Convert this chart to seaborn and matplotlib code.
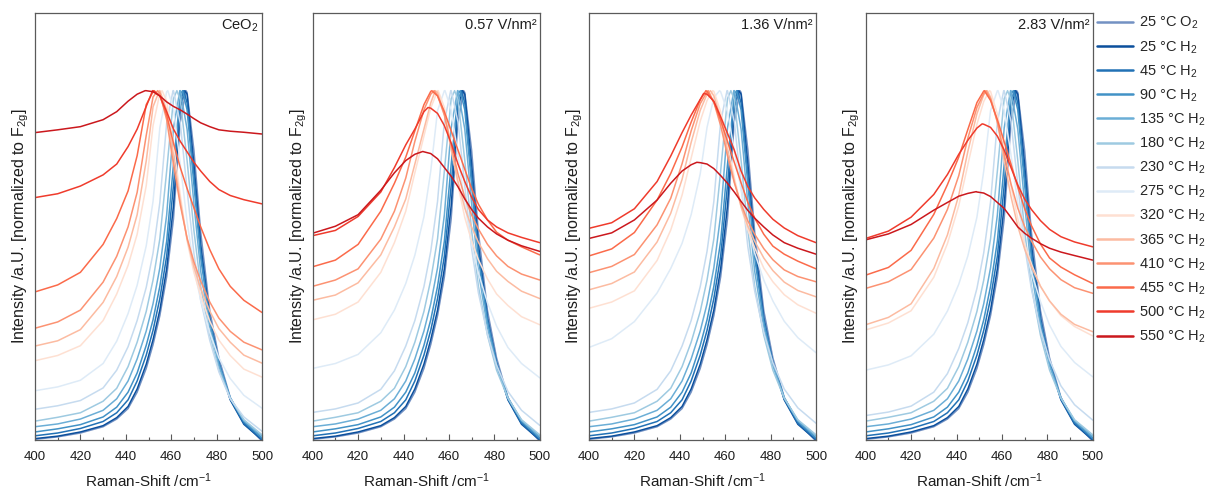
import numpy as np
import pandas as pd
import matplotlib
matplotlib.use("Agg")
import matplotlib.pyplot as plt
import seaborn as sns
from matplotlib.lines import Line2D
from matplotlib.ticker import MultipleLocator

# ---------------- data ----------------
raman_shift = [400, 410, 420, 430, 436, 441, 445, 449, 452, 455, 458,
               461, 464, 467, 470, 473, 477, 481, 486, 492, 500]

series_labels = ["25 °C O$_2$", "25 °C H$_2$", "45 °C H$_2$", "90 °C H$_2$",
                 "135 °C H$_2$", "180 °C H$_2$", "230 °C H$_2$", "275 °C H$_2$",
                 "320 °C H$_2$", "365 °C H$_2$", "410 °C H$_2$", "455 °C H$_2$",
                 "500 °C H$_2$", "550 °C H$_2$"]

series_colors = ["#7391c3", "#0b4f9c", "#2171b5", "#4292c6", "#6baed6", "#9ecae1",
                 "#c6dbef", "#deebf7", "#fee0d2", "#fcbba1", "#fc9272", "#fb6a4a",
                 "#ef3b2c", "#cb181d"]

panel_titles = ["CeO$_2$", "0.57 V/nm²", "1.36 V/nm²", "2.83 V/nm²"]

# low-temperature curves look the same in all four panels
o2_25 = [0.002, 0.009, 0.020, 0.038, 0.060, 0.090, 0.137, 0.205, 0.273, 0.356, 0.467,
         0.633, 0.910, 0.995, 0.830, 0.595, 0.370, 0.235, 0.122, 0.050, -0.003]
h2_25 = [0.004, 0.011, 0.023, 0.041, 0.064, 0.096, 0.146, 0.217, 0.287, 0.372, 0.490,
         0.670, 0.950, 0.990, 0.790, 0.560, 0.350, 0.220, 0.115, 0.045, 0.000]
h2_45 = [0.012, 0.020, 0.033, 0.053, 0.078, 0.115, 0.169, 0.243, 0.314, 0.405, 0.526,
         0.728, 0.970, 0.965, 0.760, 0.540, 0.340, 0.220, 0.117, 0.048, 0.002]
h2_90 = [0.023, 0.032, 0.044, 0.066, 0.094, 0.137, 0.192, 0.271, 0.344, 0.440, 0.569,
         0.788, 0.990, 0.945, 0.731, 0.521, 0.340, 0.220, 0.121, 0.053, 0.006]
h2_135 = [0.038, 0.046, 0.060, 0.085, 0.118, 0.169, 0.232, 0.312, 0.390, 0.493, 0.644,
          0.893, 1.000, 0.890, 0.677, 0.483, 0.322, 0.212, 0.120, 0.056, 0.011]
h2_180 = [0.054, 0.065, 0.078, 0.111, 0.148, 0.210, 0.280, 0.368, 0.458, 0.576, 0.770,
          0.977, 0.975, 0.800, 0.600, 0.440, 0.300, 0.200, 0.120, 0.058, 0.015]

# panel 1: CeO2
p1_230 = [0.088, 0.098, 0.113, 0.149, 0.200, 0.267, 0.342, 0.437, 0.535, 0.680, 0.907,
          1.000, 0.907, 0.716, 0.535, 0.400, 0.285, 0.195, 0.118, 0.066, 0.025]
p1_275 = [0.141, 0.152, 0.171, 0.219, 0.283, 0.362, 0.443, 0.556, 0.683, 0.894, 0.997,
          0.950, 0.790, 0.625, 0.494, 0.400, 0.308, 0.235, 0.176, 0.128, 0.091]
p1_320 = [0.227, 0.242, 0.270, 0.342, 0.418, 0.500, 0.589, 0.728, 0.900, 0.993, 0.970,
          0.846, 0.701, 0.570, 0.480, 0.412, 0.340, 0.286, 0.242, 0.203, 0.180]
p1_365 = [0.269, 0.284, 0.316, 0.394, 0.468, 0.552, 0.645, 0.799, 0.954, 1.000, 0.945,
          0.814, 0.684, 0.575, 0.496, 0.433, 0.369, 0.319, 0.280, 0.243, 0.220]
p1_410 = [0.320, 0.338, 0.372, 0.452, 0.526, 0.610, 0.709, 0.872, 0.982, 0.993, 0.917,
          0.789, 0.673, 0.578, 0.510, 0.455, 0.395, 0.349, 0.311, 0.280, 0.258]
p1_455 = [0.424, 0.444, 0.480, 0.560, 0.634, 0.713, 0.814, 0.960, 0.997, 0.985, 0.930,
          0.850, 0.780, 0.720, 0.665, 0.610, 0.545, 0.490, 0.440, 0.400, 0.365]
p1_500 = [0.694, 0.705, 0.727, 0.759, 0.790, 0.840, 0.890, 0.955, 1.000, 0.985, 0.940,
          0.890, 0.855, 0.825, 0.795, 0.770, 0.740, 0.717, 0.700, 0.688, 0.676]
p1_550 = [0.880, 0.888, 0.897, 0.917, 0.940, 0.970, 0.990, 1.000, 0.997, 0.985, 0.968,
          0.955, 0.945, 0.933, 0.920, 0.908, 0.897, 0.888, 0.884, 0.881, 0.876]
p1_peak_x = [466.5, 466.0, 465.5, 465.0, 463.8, 462.5, 460.8, 458.5, 456.0, 454.8,
             454.0, 452.5, 451.8, 448.5]
p1_peak_y = [1, 1, 1, 1, 1, 1, 1, 1, 1, 1, 1, 1, 1, 1]

# panel 2: 0.57 V/nm²
p2_230 = [0.079, 0.089, 0.106, 0.145, 0.198, 0.269, 0.342, 0.439, 0.540, 0.683, 0.911,
          1.000, 0.911, 0.728, 0.548, 0.421, 0.302, 0.214, 0.139, 0.085, 0.042]
p2_275 = [0.205, 0.219, 0.245, 0.307, 0.372, 0.448, 0.529, 0.639, 0.770, 0.943, 1.000,
          0.945, 0.815, 0.677, 0.559, 0.478, 0.393, 0.326, 0.265, 0.219, 0.178]
p2_320 = [0.344, 0.360, 0.395, 0.480, 0.565, 0.655, 0.765, 0.870, 0.950, 1.000, 0.952,
          0.841, 0.730, 0.637, 0.570, 0.516, 0.461, 0.418, 0.385, 0.353, 0.330]
p2_365 = [0.400, 0.415, 0.450, 0.530, 0.610, 0.690, 0.790, 0.890, 0.965, 0.995, 0.934,
          0.832, 0.740, 0.664, 0.610, 0.566, 0.519, 0.483, 0.454, 0.426, 0.405]
p2_410 = [0.440, 0.458, 0.490, 0.575, 0.655, 0.750, 0.855, 0.945, 0.990, 0.986, 0.930,
          0.843, 0.762, 0.695, 0.644, 0.604, 0.560, 0.527, 0.497, 0.475, 0.458]
p2_455 = [0.496, 0.515, 0.560, 0.655, 0.735, 0.810, 0.885, 0.960, 0.998, 0.985, 0.940,
          0.885, 0.830, 0.775, 0.720, 0.675, 0.630, 0.595, 0.572, 0.553, 0.530]
p2_500 = [0.585, 0.600, 0.640, 0.710, 0.780, 0.845, 0.890, 0.940, 0.950, 0.935, 0.900,
          0.850, 0.790, 0.740, 0.695, 0.660, 0.630, 0.610, 0.593, 0.580, 0.565]
p2_550 = [0.592, 0.612, 0.645, 0.715, 0.765, 0.800, 0.818, 0.825, 0.820, 0.805, 0.780,
          0.755, 0.725, 0.690, 0.660, 0.635, 0.610, 0.590, 0.572, 0.556, 0.540]
p2_peak_x = [466.5, 466.0, 465.5, 465.0, 463.8, 462.5, 460.8, 458.3, 455.3, 454.0,
             453.5, 452.5, 450.8, 448.5]
p2_peak_y = [1, 1, 1, 1, 1, 1, 1, 1, 1, 1, 1, 1, 0.952, 0.826]

# panel 3: 1.36 V/nm²
p3_230 = [0.079, 0.089, 0.106, 0.145, 0.198, 0.269, 0.342, 0.439, 0.540, 0.683, 0.911,
          1.000, 0.911, 0.730, 0.552, 0.426, 0.308, 0.221, 0.146, 0.092, 0.048]
p3_275 = [0.265, 0.290, 0.339, 0.421, 0.491, 0.563, 0.645, 0.762, 0.895, 0.980, 0.997,
          0.940, 0.830, 0.715, 0.610, 0.535, 0.458, 0.398, 0.340, 0.293, 0.250]
p3_320 = [0.377, 0.395, 0.427, 0.514, 0.601, 0.701, 0.807, 0.913, 0.972, 0.998, 0.940,
          0.850, 0.752, 0.667, 0.601, 0.550, 0.492, 0.453, 0.416, 0.387, 0.363]
p3_365 = [0.430, 0.448, 0.481, 0.567, 0.649, 0.746, 0.852, 0.944, 0.990, 0.985, 0.924,
          0.829, 0.741, 0.668, 0.612, 0.569, 0.521, 0.485, 0.452, 0.428, 0.410]
p3_410 = [0.479, 0.497, 0.531, 0.616, 0.692, 0.791, 0.885, 0.963, 0.997, 0.967, 0.900,
          0.814, 0.737, 0.675, 0.627, 0.589, 0.548, 0.516, 0.487, 0.468, 0.453]
p3_455 = [0.527, 0.547, 0.594, 0.687, 0.763, 0.839, 0.910, 0.974, 0.998, 0.967, 0.915,
          0.855, 0.795, 0.736, 0.680, 0.635, 0.589, 0.555, 0.532, 0.512, 0.490]
p3_500 = [0.606, 0.622, 0.662, 0.740, 0.813, 0.880, 0.930, 0.975, 0.990, 0.970, 0.925,
          0.878, 0.830, 0.770, 0.725, 0.693, 0.660, 0.632, 0.607, 0.585, 0.565]
p3_550 = [0.577, 0.593, 0.630, 0.687, 0.735, 0.770, 0.788, 0.794, 0.790, 0.777, 0.757,
          0.735, 0.710, 0.683, 0.657, 0.635, 0.610, 0.587, 0.565, 0.549, 0.532]
p3_peak_x = [466.5, 466.0, 465.5, 465.0, 463.8, 462.5, 460.8, 457.5, 454.5, 453.5,
             452.5, 451.5, 450.5, 447.5]
p3_peak_y = [1, 1, 1, 1, 1, 1, 1, 1, 1, 1, 1, 1, 0.992, 0.795]

# panel 4: 2.83 V/nm²
p4_230 = [0.070, 0.080, 0.097, 0.137, 0.190, 0.262, 0.336, 0.434, 0.536, 0.681, 0.910,
          1.000, 0.912, 0.732, 0.556, 0.432, 0.315, 0.229, 0.155, 0.101, 0.057]
p4_275 = [0.200, 0.215, 0.241, 0.303, 0.369, 0.446, 0.527, 0.638, 0.770, 0.943, 1.000,
          0.945, 0.816, 0.679, 0.561, 0.480, 0.396, 0.329, 0.268, 0.222, 0.181]
p4_320 = [0.315, 0.335, 0.370, 0.466, 0.562, 0.671, 0.788, 0.904, 0.969, 0.998, 0.933,
          0.834, 0.727, 0.634, 0.561, 0.504, 0.440, 0.398, 0.356, 0.325, 0.298]
p4_365 = [0.330, 0.351, 0.390, 0.491, 0.587, 0.701, 0.826, 0.934, 0.988, 0.982, 0.911,
          0.800, 0.697, 0.612, 0.547, 0.496, 0.440, 0.398, 0.360, 0.331, 0.310]
p4_410 = [0.434, 0.453, 0.488, 0.578, 0.660, 0.757, 0.864, 0.952, 0.992, 0.977, 0.910,
          0.817, 0.733, 0.664, 0.611, 0.570, 0.524, 0.490, 0.459, 0.436, 0.420]
p4_455 = [0.472, 0.494, 0.543, 0.646, 0.731, 0.810, 0.889, 0.966, 0.999, 0.972, 0.917,
          0.854, 0.790, 0.724, 0.663, 0.614, 0.561, 0.521, 0.495, 0.473, 0.448]
p4_500 = [0.577, 0.598, 0.638, 0.703, 0.760, 0.818, 0.858, 0.893, 0.904, 0.895, 0.870,
          0.830, 0.780, 0.730, 0.690, 0.660, 0.628, 0.603, 0.582, 0.567, 0.553]
p4_550 = [0.573, 0.590, 0.617, 0.658, 0.680, 0.698, 0.706, 0.710, 0.707, 0.697, 0.680,
          0.663, 0.637, 0.610, 0.592, 0.578, 0.562, 0.549, 0.538, 0.528, 0.515]
p4_peak_x = [466.5, 466.0, 465.5, 465.0, 463.8, 462.5, 460.8, 458.3, 454.5, 453.5,
             453.0, 452.3, 451.3, 448.7]
p4_peak_y = [1, 1, 1, 1, 1, 1, 1, 1, 1, 1, 1, 1, 0.905, 0.711]

low_curves = [o2_25, h2_25, h2_45, h2_90, h2_135, h2_180]
panels = [
    (low_curves + [p1_230, p1_275, p1_320, p1_365, p1_410, p1_455, p1_500, p1_550], p1_peak_x, p1_peak_y),
    (low_curves + [p2_230, p2_275, p2_320, p2_365, p2_410, p2_455, p2_500, p2_550], p2_peak_x, p2_peak_y),
    (low_curves + [p3_230, p3_275, p3_320, p3_365, p3_410, p3_455, p3_500, p3_550], p3_peak_x, p3_peak_y),
    (low_curves + [p4_230, p4_275, p4_320, p4_365, p4_410, p4_455, p4_500, p4_550], p4_peak_x, p4_peak_y),
]

# ---------------- style ----------------
sns.set_style("white")
plt.rcParams["font.family"] = ["Liberation Sans", "DejaVu Sans"]
plt.rcParams["mathtext.fontset"] = "custom"
plt.rcParams["mathtext.rm"] = "Liberation Sans"
plt.rcParams["mathtext.it"] = "Liberation Sans:italic"
plt.rcParams["mathtext.bf"] = "Liberation Sans:bold"

W, H = 1221, 495
fig = plt.figure(figsize=(W / 100, H / 100), dpi=100)
lefts_px = [35, 312.7, 589, 865.7]
ax_w = 227.0 / W
ax_b = 1 - 440 / H
ax_h = (440 - 12.7) / H

text_col = "#1e1e1e"
spine_col = "#5a5a5a"
for k, (curves, pk_x, pk_y) in enumerate(panels):
    ax = fig.add_axes([lefts_px[k] / W, ax_b, ax_w, ax_h])
    rows = []
    for lab, vals, px, py in zip(series_labels, curves, pk_x, pk_y):
        for xv, yv in zip(raman_shift + [px], vals + [py]):
            rows.append((lab, xv, yv))
    df = pd.DataFrame(rows, columns=["series", "shift", "intensity"])
    sns.lineplot(data=df, x="shift", y="intensity", hue="series",
                 hue_order=series_labels, palette=series_colors,
                 estimator=None, sort=True, legend=False, lw=1.1, ax=ax)
    ax.set_xlim(400, 500)
    ax.set_ylim(0, 1.2233)
    ax.set_yticks([])
    ax.xaxis.set_major_locator(MultipleLocator(20))
    ax.xaxis.set_minor_locator(MultipleLocator(10))
    ax.tick_params(axis="x", which="both", direction="in", bottom=True, top=False,
                   color=spine_col, labelsize=9.5, pad=8, labelcolor=text_col)
    ax.tick_params(axis="x", which="major", length=4, width=0.8)
    ax.tick_params(axis="x", which="minor", length=2.5, width=0.8)
    for s in ax.spines.values():
        s.set_color(spine_col)
        s.set_linewidth(0.9)
    ax.set_xlabel("Raman-Shift /cm$^{-1}$", fontsize=11, labelpad=6, color=text_col)
    ax.set_ylabel("Intensity /a.U. [normalized to F$_{\\mathrm{2g}}$]", fontsize=11.5,
                  labelpad=3, color=text_col)
    ax.text(0.985, 0.988, panel_titles[k], transform=ax.transAxes, ha="right", va="top",
            fontsize=10.5, color=text_col)

handles = [Line2D([0], [0], color=c, lw=1.8) for c in series_colors]
fig.legend(handles, series_labels, loc="upper left",
           bbox_to_anchor=(1097 / W, 1 - 15 / H), frameon=False, fontsize=10.5,
           handlelength=2.5, handletextpad=0.4, labelspacing=0.53,
           borderaxespad=0, borderpad=0)

fig.savefig("out.png", dpi=100)
